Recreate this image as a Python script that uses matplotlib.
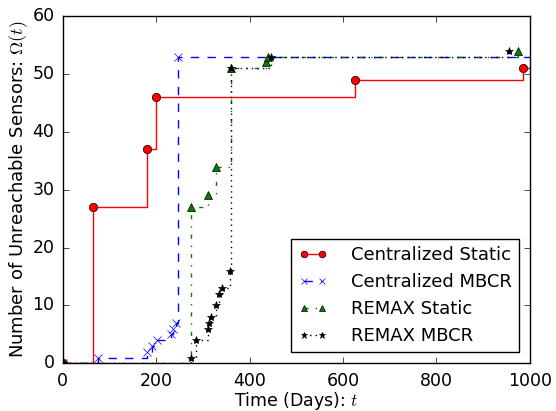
import matplotlib
matplotlib.use("Agg")
import matplotlib.pyplot as plt

# event days and counts of unreachable sensors
cs_days = [0, 65, 180, 199, 626, 986, 1100]
cs_vals = [0, 27, 37, 46, 49, 51, 51]

cm_days = [0, 75, 181, 192, 202, 232, 236, 242, 246, 1100]
cm_vals = [0, 1, 2, 3, 4, 5, 6, 7, 53, 53]

rs_days = [0, 275, 310, 329, 360, 436, 440, 974]
rs_vals = [0, 27, 29, 34, 51, 52, 53, 54]

rm_days = [0, 275, 286, 310, 313, 318, 329, 334, 340, 359, 360, 445, 955]
rm_vals = [0, 1, 4, 6, 7, 8, 10, 12, 13, 16, 51, 53, 54]

plt.style.use('classic')
plt.rcParams['figure.facecolor'] = 'white'
plt.rcParams['savefig.facecolor'] = 'white'

fig = plt.figure(figsize=(5.56, 4.11), dpi=100)
ax = fig.add_axes([0.113, 0.116, 0.84, 0.845])

ax.plot(cs_days, cs_vals, 'ro-', drawstyle='steps-post', label='Centralized Static',
        markevery=list(range(len(cs_days) - 1)))
ax.plot(cm_days, cm_vals, 'bx--', drawstyle='steps-post', label='Centralized MBCR',
        markevery=list(range(len(cm_days) - 1)))
ax.plot(rs_days, rs_vals, 'g^-.', drawstyle='steps-post', label='REMAX Static')
ax.plot(rm_days, rm_vals, 'k*:', drawstyle='steps-post', label='REMAX MBCR')

ax.set_xlim(0, 1000)
ax.set_ylim(0, 60)
ax.set_xlabel('Time (Days): $t$', fontsize=12.5, labelpad=0)
ax.set_ylabel(r'Number of Unreachable Sensors: $\Omega(t)$', fontsize=13, labelpad=2)
ax.tick_params(labelsize=12.5, pad=6)
ax.legend(loc='lower right', fontsize=13, borderaxespad=0.6,
          handlelength=1.6, handletextpad=1.3, markerscale=0.8)

fig.savefig('out.png', dpi=100)
